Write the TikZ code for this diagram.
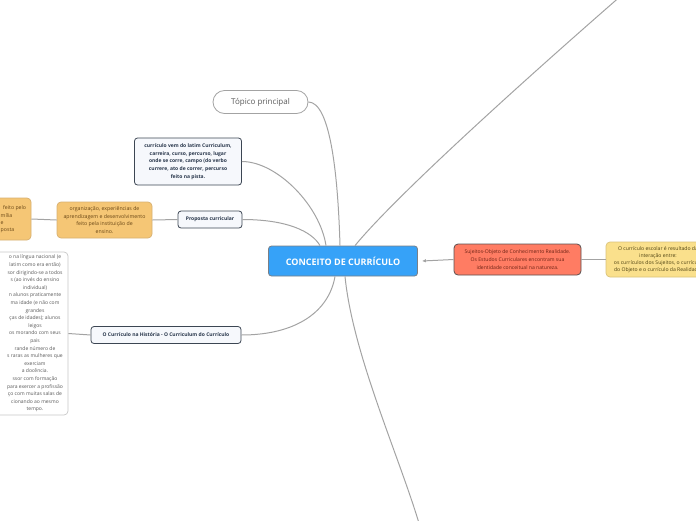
\documentclass[tikz,border=0pt]{standalone}
\usepackage{fontspec}
\setmainfont{Open Sans}
\usetikzlibrary{positioning,arrows.meta}

\definecolor{mapblue}{HTML}{36A2F8}
\definecolor{mapblueline}{HTML}{7A7F86}
\definecolor{linkgray}{HTML}{A3A3A3}
\definecolor{notedark}{HTML}{3C4653}
\definecolor{notefill}{HTML}{F6F8FC}
\definecolor{notetext}{HTML}{27354A}
\definecolor{orangefill}{HTML}{F5C675}
\definecolor{orangeline}{HTML}{D6B072}
\definecolor{orangetext}{HTML}{6A4716}
\definecolor{redfill}{HTML}{FF7C63}
\definecolor{redline}{HTML}{5A5050}
\definecolor{redtext}{HTML}{6E2416}
\definecolor{yellowfill}{HTML}{FAE08C}
\definecolor{yellowline}{HTML}{D9C27A}
\definecolor{yellowtext}{HTML}{4E4212}
\definecolor{grayline}{HTML}{C8C8C8}
\definecolor{graytext}{HTML}{5A5A5A}

\tikzset{
  link/.style={draw=linkgray, line width=1pt},
  centrebox/.style={draw=mapblueline, fill=mapblue, rounded corners=3pt, line width=0.8pt,
    text=white, font=\fontsize{9}{11}\selectfont\bfseries, minimum width=149pt, minimum height=30pt},
  topicbox/.style={draw=linkgray, fill=white, rounded corners=11.5pt, line width=0.8pt,
    text=graytext, font=\fontsize{8}{10}\selectfont, minimum width=95pt, minimum height=23pt},
  notebox/.style={draw=notedark, fill=notefill, rounded corners=3pt, line width=0.8pt,
    text=notetext, font=\fontsize{5}{7.6}\selectfont\bfseries, align=center, inner sep=3pt},
  orangebox/.style={draw=orangeline, fill=orangefill, rounded corners=4pt, line width=0.7pt,
    text=orangetext, font=\fontsize{5.2}{7.4}\selectfont, align=center},
  redbox/.style={draw=redline, fill=redfill, rounded corners=4pt, line width=0.8pt,
    text=redtext, font=\fontsize{5.1}{7.6}\selectfont, align=center},
  yellowbox/.style={draw=yellowline, fill=yellowfill, rounded corners=4pt, line width=0.7pt,
    text=yellowtext, font=\fontsize{5.1}{7.2}\selectfont, align=center},
  graybox/.style={draw=grayline, fill=white, rounded corners=4pt, line width=0.7pt},
  smalltext/.style={text=graytext, font=\fontsize{5}{7.6}\selectfont, align=center, inner sep=0pt},
}

\begin{document}
\begin{tikzpicture}[x=1pt,y=-1pt]
\useasboundingbox (0,0) rectangle (696,520);
\clip (0,0) rectangle (696,520);

% central topic
\node[centrebox] (conceito) at (343,261) {CONCEITO DE CURRÍCULO};

% upper left branches
\node[topicbox] (topico) at (260.5,102) {Tópico principal};
\node[notebox, minimum width=107pt, minimum height=47pt] (latim) at (188,161.5)
  {currículo vem do latim Curriculum,\\carreira, curso, percurso, lugar\\onde se corre, campo (do verbo\\currere, ato de correr, percurso\\feito na pista.};
\node[notebox, minimum width=64pt, minimum height=17pt] (proposta) at (210,219.5) {Proposta curricular};
\node[orangebox, minimum width=95pt, minimum height=36pt] (organizacao) at (104.5,220)
  {organização, experiências de\\aprendizagem e desenvolvimento\\feito pela instituição de\\ensino.};
\node[orangebox, minimum width=80pt, minimum height=42pt] (familia) at (-9,219) {};
\node[anchor=west, align=left, text=orangetext, font=\fontsize{5.2}{7.4}\selectfont, inner sep=0pt] (familiatxt) at (0.5,219.5)
  {\hspace{2.5pt}feito pelo\\mília\\e\\posta};

% lower left branch
\node[notebox, minimum width=150pt, minimum height=17pt] (historia) at (166,335)
  {O Currículo na História - O Curriculum do Currículo};
\node[graybox, minimum width=130pt, minimum height=163pt] (cursos) at (3,333.5) {};
\node[smalltext] (cursostxt) at (35,333.5)
  {o na língua nacional (e\\latim como era então)\\sor dirigindo-se a todos\\s (ao invés do ensino\\individual)\\n alunos praticamente\\ma idade (e não com\\grandes\\ças de idades); alunos\\leigos\\os morando com seus\\pais\\rande número de\\s raras as mulheres que\\exerciam\\a docência.\\ssor com formação\\para exercer a profissão\\ço com muitas salas de\\cionando ao mesmo\\tempo.};

% right branch
\node[redbox, minimum width=127pt, minimum height=31pt] (sujeitos) at (517.5,259.5)
  {Sujeitos-Objeto de Conhecimento Realidade.\\Os Estudos Curriculares encontram sua\\identidade conceitual na natureza.};
\node[yellowbox, minimum width=104pt, minimum height=35pt] (resultado) at (658,259.5)
  {O currículo escolar é resultado da\\interação entre:\\os currículos dos Sujeitos, o currículo\\do Objeto e o currículo da Realidade.};

% far branches
\coordinate (norte) at (630,-12);
\coordinate (sul) at (421,530);

% connectors
\draw[link] (topico.east) .. controls +(22,0) and +(-2,-70) .. ([xshift=-3pt]conceito.north);
\draw[link] (latim.east) .. controls +(35,0) and +(-6,-40) .. ([xshift=-17pt]conceito.north);
\draw[link] (proposta.east) .. controls +(45,0) and +(-8,-14) .. ([xshift=-23pt]conceito.north);
\draw[link] ([xshift=12pt]conceito.north) .. controls +(45,-55) and +(-75,65) .. (norte);
\draw[link] (historia.east) .. controls +(55,0) and +(-6,35) .. ([xshift=-8pt]conceito.south);
\draw[link] ([xshift=2pt]conceito.south) .. controls +(8,80) and +(-20,-70) .. (sul);
\draw[link, {Latex[length=4pt,width=3.5pt]}-] ([xshift=4pt]conceito.east) -- (sujeitos.west);
\draw[link] (sujeitos.east) -- (resultado.west);
\draw[link] (proposta.west) -- (organizacao.east);
\draw[link] (organizacao.west) -- (familia.east);
\draw[link] (historia.west) -- (cursos.east);
\end{tikzpicture}
\end{document}
